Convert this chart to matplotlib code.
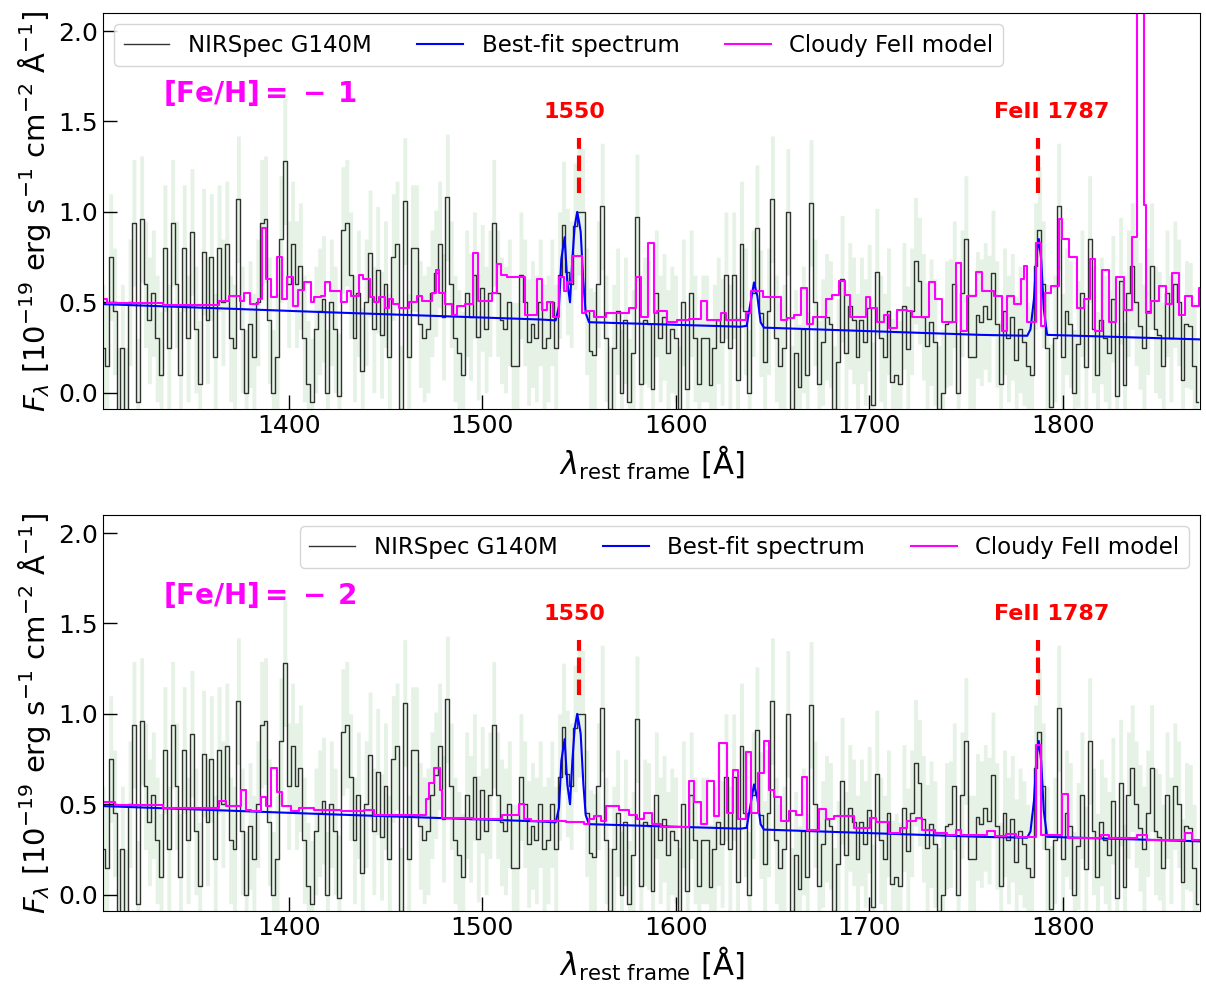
import numpy as np
import matplotlib
matplotlib.use('Agg')
import matplotlib.pyplot as plt

# observed NIRSpec spectrum (rest frame, 2 A bins starting at 1304 A)
wave_start = 1304.0
wave_step = 2.0
flux_obs = [
    0.25, 0.15, 0.75, 0.45, -0.1, 0.25, -0.1, 0.5, 0.94, -0.05,
    0.96, 0.6, 0.4, 0.55, 0.3, 0.1, 0.8, 0.25, 0.94, 0.6,
    0.1, 0.8, 0.3, 0.89, 0.35, 0.05, 0.78, 0.4, 0.75, 0.2,
    0.8, 0.5, 0.82, 0.3, 0.25, 1.07, 0.35, 0.0, 0.38, 0.2,
    0.5, 0.94, 0.96, 0.4, 0.0, 0.2, 0.85, 1.28, 0.6, 0.82,
    0.6, 0.7, 0.3, 0.05, -0.05, 0.35, 0.45, 0.52,
    0.0, 0.5, 0.35, -0.02, 0.9, 0.94, 0.65, 0.3, 0.55, 0.12,
    0.5, 0.77, 0.35, 0.68, 0.32, 0.6, 0.2, 0.75, 0.82, -0.09,
    1.06, 0.2, 0.8, 0.8, 0.38, 0.3, 0.35, 0.55, 0.66, 0.82,
    0.42, 1.08, 0.6, 0.3, 0.22, 0.1, 0.55, 0.42, 0.65, 0.31,
    0.58, 0.35, 0.55, 0.94, 0.55, 0.4, 0.35, 0.5, 0.15, 0.15,
    0.65, 0.5, 0.28, 0.38, 0.3, 0.5, 0.25,
    0.3, 0.5, 0.25, 0.65, 0.93, 0.67, 0.6, 0.92, 1.0, 1.0,
    0.45, 0.23, 0.21, 0.6, 1.03, 0.3, -0.09, 0.25, 0.45, 0.0,
    0.4, -0.05, 0.22, 0.97, 0.05, 0.4, 0.38, 0.02, 0.55, 0.3,
    0.42, 0.22, 0.35, 0.3, -0.09, 0.5, 0.02, 0.55, 0.3, 0.05,
    0.3, 0.3, 0.04, 0.25, 0.4, 0.28, 0.65, 0.25, 0.65, 0.07,
    0.82, 0.45, 0.0, 0.55, 0.91, 0.44, 0.17,
    0.45, 1.07, 0.3, 0.15, 0.25, 1.0, -0.09, 0.22, 0.03, 0.35,
    0.1, 1.05, 0.5, 0.05, 0.28, 0.42, 0.38, -0.09, 0.17, 0.63,
    0.22, 0.48, 0.4, 0.2, 0.4, 0.28, 0.47, -0.07, 0.67, 0.3,
    0.2, 0.45, 0.06, 0.1, 0.05, 0.48, 0.24, 0.45, 0.73, 0.62,
    0.42, 0.26, 0.39, 0.28, -0.09, 0.0, 0.38, 0.39, 0.6, 0.0,
    0.55, 0.85, 0.2, 0.2, 0.43, 0.39, 0.48,
    0.41, 0.66, 0.38, 0.05, 0.45, 0.3, 0.42, 0.18, 0.35, 0.28,
    0.15, 0.1, 0.7, 0.9, 0.6, 0.25, -0.08, 0.3, 1.03, 0.2,
    0.45, 0.38, 0.0, 0.27, 0.55, 0.14, 0.85, 0.35, 0.1, 0.4,
    0.3, 0.22, 0.52, -0.02, 0.62, 0.04, 0.55, 0.7, 0.5, 0.37,
    0.25, 0.45, 0.7, 0.35, 0.32, 0.15, 0.55, 0.3, 0.6, 0.5,
    0.07, 0.38, 0.37, 0.15, -0.05,
]
flux_err = 0.35

# best-fit spectrum (continuum + CIV, HeII, FeII 1787)
fit_wave = [1304, 1420, 1530, 1538, 1539.7, 1540.9, 1542.6, 1544.0, 1545.4, 1546.6,
            1547.8, 1549.1, 1550.0, 1550.9, 1552.3, 1553.5, 1555.2, 1633.6, 1636.7, 1638.4,
            1640.5, 1642.2, 1643.9, 1645.6, 1757.6, 1781.7, 1783.4, 1785.2, 1786.5, 1787.7,
            1788.9, 1790.3, 1792.0, 1871]
fit_flux = [0.49, 0.445, 0.405, 0.40, 0.48, 0.74, 0.86, 0.61, 0.50, 0.74,
            0.92, 1.0, 0.95, 0.89, 0.61, 0.44, 0.39, 0.365, 0.37, 0.48,
            0.61, 0.535, 0.39, 0.36, 0.32, 0.315, 0.35, 0.52, 0.76, 0.85,
            0.74, 0.46, 0.32, 0.295]

# Cloudy FeII model, [Fe/H] = -1 (bin start wavelength, flux)
fe1_start = [
    1304, 1306, 1335, 1364, 1369, 1375, 1377, 1380, 1384, 1386,
    1388.4, 1391, 1393.8, 1396.7, 1399, 1402.4, 1404.8, 1408, 1411.3, 1413,
    1416.5, 1418.6, 1421.5, 1427.2, 1429.9, 1432.3, 1436.3, 1438.5, 1442, 1444,
    1446.6, 1449.7, 1451.8, 1454, 1457, 1462, 1466.5, 1469, 1474.2, 1476,
    1477.7, 1481, 1484.5, 1487.1, 1491, 1495.4, 1497.8, 1505.2, 1507.5, 1509.9,
    1513, 1522, 1528.5, 1531, 1533.3, 1536.7, 1539.7, 1542.1, 1544, 1546.3,
    1551.7, 1553.5, 1557.8, 1563.8, 1575.9, 1579.3, 1581.9, 1585.7, 1588.8, 1590.5,
    1595.7, 1600.8, 1606.9, 1612.9, 1616.3, 1623.2, 1625.8, 1636.1, 1638.7, 1645.3,
    1654.2, 1657.7, 1661.1, 1664.6, 1668, 1671.1, 1677.5, 1681, 1684.4, 1687.3,
    1690.1, 1698.2, 1700.7, 1704.2, 1707.6, 1710.2, 1714.5, 1719.7, 1722.3, 1730.9,
    1733.8, 1737.8, 1744.7, 1747.3, 1750.7, 1755, 1758.5, 1764.5, 1768.8, 1771.4,
    1774.8, 1778.3, 1780, 1781.7, 1786, 1789, 1791, 1793.8, 1798, 1799.8,
    1803.3, 1807.6, 1811, 1814.4, 1817, 1820.5, 1824, 1827.4, 1831.7, 1836,
    1838.2, 1842, 1843, 1845.5, 1849.8, 1853.2, 1856.7, 1860.1, 1863.5, 1867,
    1870.4]
fe1_flux = [
    0.52, 0.495, 0.485, 0.51, 0.535, 0.51, 0.55, 0.49, 0.52, 0.91,
    0.63, 0.53, 0.75, 0.52, 0.64, 0.48, 0.57, 0.61, 0.50, 0.53,
    0.535, 0.61, 0.56, 0.50, 0.56, 0.535, 0.65, 0.63, 0.53, 0.50,
    0.53, 0.47, 0.52, 0.49, 0.47, 0.50, 0.535, 0.51, 0.55, 0.68,
    0.55, 0.49, 0.43, 0.48, 0.49, 0.77, 0.51, 0.55, 0.71, 0.65,
    0.64, 0.43, 0.63, 0.46, 0.50, 0.42, 0.64, 0.56, 0.61, 0.755,
    0.44, 0.45, 0.42, 0.44, 0.47, 0.64, 0.42, 0.83, 0.44, 0.45,
    0.39, 0.40, 0.41, 0.51, 0.40, 0.44, 0.40, 0.44, 0.56, 0.53,
    0.40, 0.415, 0.43, 0.58, 0.38, 0.42, 0.52, 0.54, 0.62, 0.54,
    0.42, 0.53, 0.47, 0.39, 0.43, 0.36, 0.46, 0.45, 0.42, 0.61,
    0.52, 0.39, 0.72, 0.34, 0.535, 0.665, 0.56, 0.535, 0.34, 0.535,
    0.49, 0.63, 0.70, 0.39, 0.83, 0.37, 0.55, 0.59, 0.96, 0.85,
    0.75, 0.47, 0.52, 0.74, 0.34, 0.68, 0.39, 0.64, 0.46, 0.86,
    4.0, 1.04, 0.44, 0.51, 0.59, 0.49, 0.66, 0.43, 0.535, 0.48,
    0.58]

# Cloudy FeII model, [Fe/H] = -2
fe2_start = [
    1304, 1310, 1335, 1364, 1367.4, 1375.2, 1377.7, 1380.3, 1385.8, 1388.1,
    1391, 1393.8, 1396.7, 1401, 1405.3, 1413, 1427, 1439, 1444, 1470.8,
    1472.5, 1475, 1478.2, 1479.4, 1495, 1510, 1519, 1521.7, 1525.1, 1543.2,
    1552.7, 1555, 1557.8, 1561.3, 1563.9, 1570.8, 1575.9, 1580.2, 1583.7, 1588,
    1592.3, 1607, 1609.5, 1613, 1616.4, 1619.9, 1622.4, 1626.4, 1629.8, 1632.3,
    1636.2, 1638.8, 1642.3, 1645.4, 1648.3, 1650.9, 1654.3, 1658.6, 1662, 1665.2,
    1667.7, 1674.1, 1677.6, 1681.9, 1692.2, 1700.7, 1703.3, 1710.2, 1716.2, 1719.7,
    1724, 1727.4, 1734, 1740, 1744.7, 1747.3, 1761, 1765.3, 1771, 1776,
    1786, 1789, 1799.8, 1802.7, 1819.6, 1823.9, 1838.5, 1843.7, 1863.5, 1867]
fe2_flux = [
    0.51, 0.495, 0.48, 0.52, 0.49, 0.58, 0.47, 0.46, 0.54, 0.49,
    0.70, 0.57, 0.49, 0.46, 0.48, 0.47, 0.465, 0.47, 0.44, 0.53,
    0.62, 0.70, 0.58, 0.425, 0.42, 0.44, 0.50, 0.42, 0.41, 0.40,
    0.39, 0.42, 0.435, 0.41, 0.49, 0.47, 0.44, 0.42, 0.45, 0.39,
    0.375, 0.63, 0.51, 0.39, 0.63, 0.435, 0.84, 0.45, 0.69, 0.42,
    0.79, 0.45, 0.675, 0.85, 0.58, 0.54, 0.41, 0.46, 0.44, 0.65,
    0.36, 0.475, 0.42, 0.435, 0.37, 0.425, 0.40, 0.34, 0.37, 0.41,
    0.425, 0.36, 0.34, 0.33, 0.36, 0.33, 0.35, 0.325, 0.335, 0.32,
    0.83, 0.33, 0.555, 0.315, 0.33, 0.315, 0.33, 0.305, 0.34, 0.30]
model_end = 1872

line_waves = [1550, 1787.5]
line_labels = ['1550', 'FeII 1787']
label_x = [1547.5, 1794.3]

wave_obs = wave_start + wave_step * np.arange(len(flux_obs))
flux_obs = np.array(flux_obs)

fig = plt.figure(figsize=(12.06, 9.92), dpi=100)
ax1 = fig.add_axes([0.0854, 0.5877, 0.9096, 0.3992])
ax2 = fig.add_axes([0.0854, 0.0817, 0.9096, 0.3992])

panels = [(ax1, fe1_start, fe1_flux, r'$\mathbf{[Fe/H] =\ {-}\;\,1}$', 'upper left'),
          (ax2, fe2_start, fe2_flux, r'$\mathbf{[Fe/H] =\ {-}\;\,2}$', 'upper right')]

for ax, m_start, m_flux, feh, legloc in panels:
    ax.fill_between(wave_obs, flux_obs - flux_err, flux_obs + flux_err, step='mid',
                    color='green', alpha=0.1, lw=0)
    ax.step(wave_obs, flux_obs, where='mid', color='k', lw=1, alpha=0.8, label='NIRSpec G140M')
    ax.plot(fit_wave, fit_flux, color='blue', lw=1.5, label='Best-fit spectrum')
    ax.step(list(m_start) + [model_end], list(m_flux) + [m_flux[-1]], where='post',
            color='magenta', lw=1.5, label='Cloudy FeII model')

    for lw_, lab, lx in zip(line_waves, line_labels, label_x):
        ax.plot([lw_, lw_], [1.105, 1.41], color='red', ls='--', lw=3)
        ax.text(lx, 1.55, lab, color='red', fontsize=16, fontweight='bold',
                ha='center', va='center')

    ax.text(1335, 1.66, feh, color='magenta', fontsize=20, va='center')

    ax.set_xlim(1304, 1871)
    ax.set_ylim(-0.09, 2.1)
    ax.set_yticks([0.0, 0.5, 1.0, 1.5, 2.0])
    ax.set_xticks([1400, 1500, 1600, 1700, 1800])
    ax.tick_params(direction='in', length=10, width=1, labelsize=18)
    ax.set_xlabel(r'$\lambda_{\rm rest\ frame}\ [\rm\AA]$', fontsize=22)
    ax.set_ylabel(r'$F_\lambda\ [10^{-19}\ \mathrm{erg\ s^{-1}\ cm^{-2}\ \AA^{-1}}]$', fontsize=21)
    ax.legend(loc=legloc, ncol=3, fontsize=16.5)

fig.savefig('out.png', dpi=100)
